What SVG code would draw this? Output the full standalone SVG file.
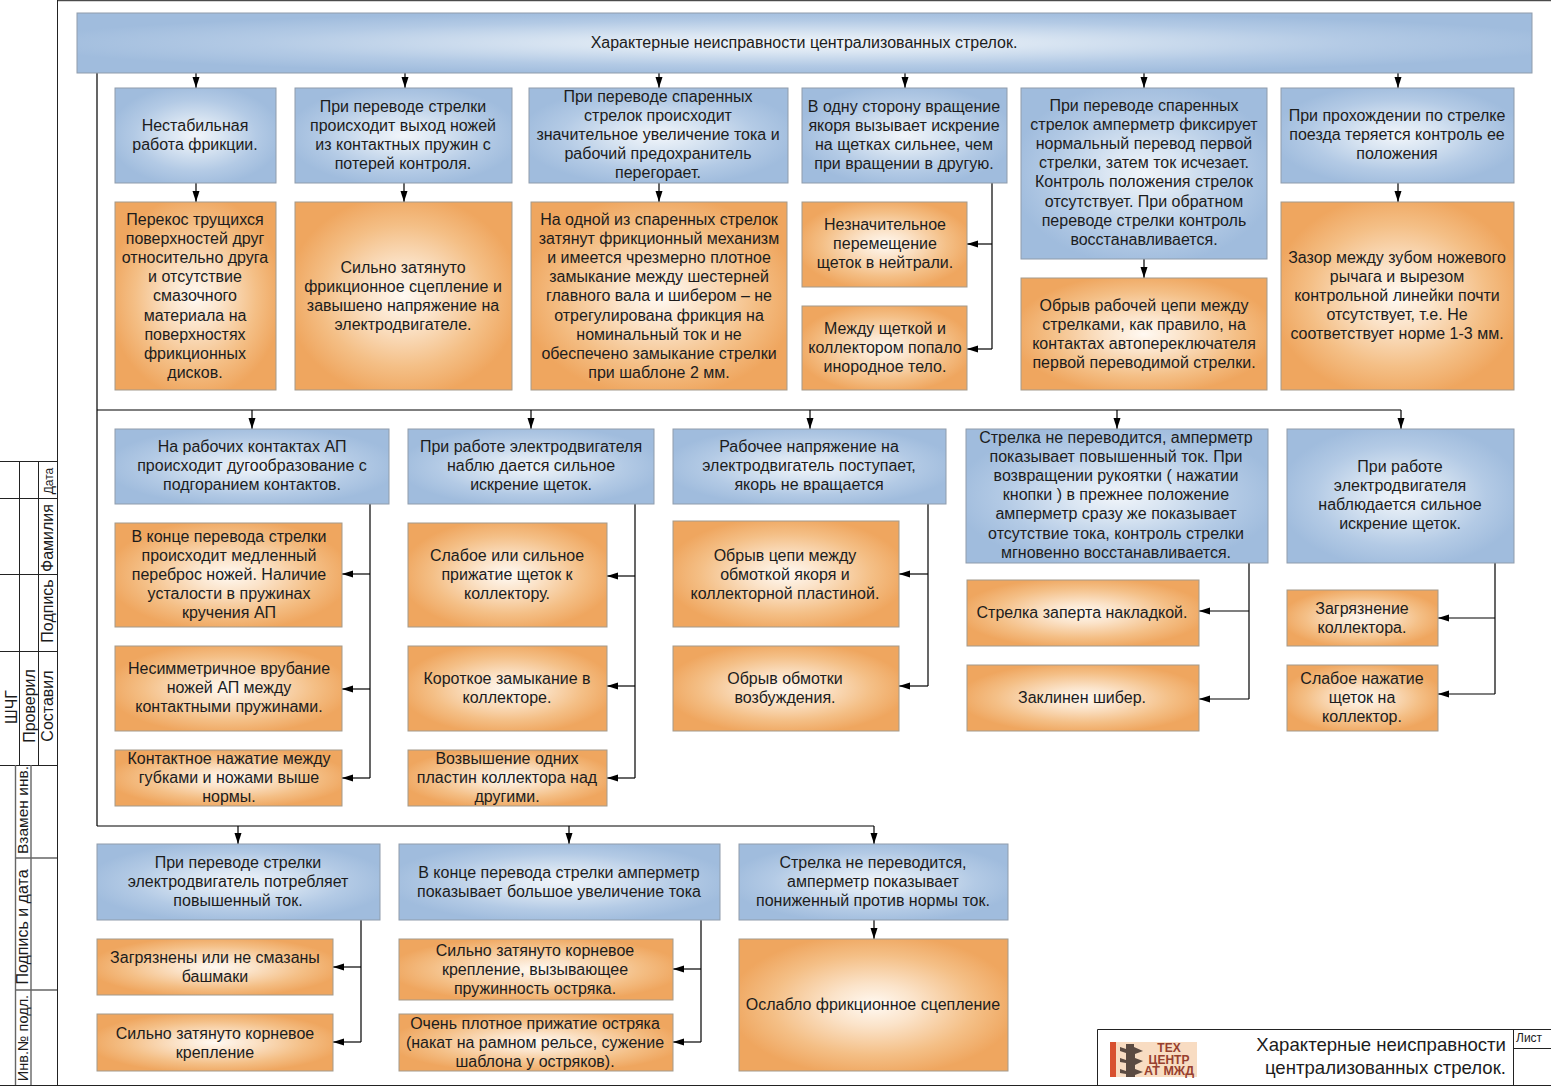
<svg xmlns="http://www.w3.org/2000/svg" width="1551" height="1086" viewBox="0 0 1551 1086">
<style>
text{font-family:"Liberation Sans",Arial,sans-serif;fill:#1c1c1c}
.t{font-size:16px;text-anchor:middle;transform:translateY(.7px)}
rect.b,rect.o{transform:translate(-.5px,-.5px)}
.b{fill:url(#blue);stroke:#8f9cab;stroke-width:1}
.o{fill:url(#orange);stroke:#a39a8c;stroke-width:1}
.c{fill:none;stroke:#000;stroke-width:1.2}
.a{marker-end:url(#ah)}
.f{fill:none;stroke:#222;stroke-width:1}
.g{fill:none;stroke:#666;stroke-width:1.4}
.v{font-size:16px;text-anchor:middle}
</style>
<defs>
<radialGradient id="blue" cx="50%" cy="50%" r="54%"><stop offset="0" stop-color="#f1f5fa"/><stop offset="0.3" stop-color="#d9e5f2"/><stop offset="0.7" stop-color="#b3cae5"/><stop offset="1" stop-color="#a0bcdd"/></radialGradient>
<radialGradient id="orange" cx="50%" cy="50%" r="54%"><stop offset="0" stop-color="#fff9f2"/><stop offset="0.3" stop-color="#fbe3c9"/><stop offset="0.7" stop-color="#f4bf86"/><stop offset="1" stop-color="#efa65f"/></radialGradient>
<marker id="ah" markerUnits="userSpaceOnUse" markerWidth="12" markerHeight="8" refX="11" refY="3.500" orient="auto"><path d="M0 0L11 3.500L0 7Z" fill="#000"/></marker>
</defs>
<rect width="1551" height="1086" fill="#fff"/>
<g id="frame">
<path class="f" d="M57.500 0V1085.500H0M1551 1085.500H57M57.500 .7H1551M1097.500 1085V1029.500H1551M1513.500 1029.500V1085M1513.500 1048.500H1551"/>
<path class="f" d="M0 461.500H57M0 498.500H57M0 574.500H57M0 651.500H57M0 765.500H57M19.500 461V765M38.500 461V765"/>
<path class="g" d="M15.500 765V1085M31 765V1085M15 858H57M15 990H57"/>
<text class="v" style="font-size:12px" transform="translate(53,481) rotate(-90)">Дата</text>
<text class="v" transform="translate(53,538) rotate(-90)">Фамилия</text>
<text class="v" transform="translate(53,611) rotate(-90)">Подпись</text>
<text class="v" transform="translate(53,706) rotate(-90)">Составил</text>
<text class="v" transform="translate(35,706) rotate(-90)">Проверил</text>
<text class="v" transform="translate(17,707) rotate(-90)">ШЧГ</text>
<text class="v" style="font-size:15.500px" transform="translate(28,810) rotate(-90)">Взамен инв.</text>
<text class="v" transform="translate(28,927) rotate(-90)">Подпись и дата</text>
<text class="v" style="font-size:14.500px" transform="translate(28,1038) rotate(-90)">Инв.№ подл.</text>
<text style="font-size:12px" x="1516" y="1042">Лист</text>
<text style="font-size:18.600px" text-anchor="end" x="1506" y="1051">Характерные неисправности</text>
<text style="font-size:18.600px" text-anchor="end" x="1506" y="1074">централизованных стрелок.</text>
</g>
<g id="logo">
<rect x="1110" y="1042" width="87" height="35" fill="#f8dcc2"/>
<rect x="1110" y="1042" width="6" height="35" fill="#d8502f"/>
<path d="M1120 1047L1126 1049V1044H1134V1047L1143 1051L1135 1054V1058L1143 1061L1135 1065V1069L1143 1072L1135 1075V1077H1126V1053L1120 1051ZM1120 1058L1126 1060V1063L1120 1062ZM1120 1069L1126 1071V1074L1120 1073Z" fill="#5b4b42"/>
<g style="font-size:12px;font-weight:bold;text-anchor:middle"><text x="1169" y="1052" style="fill:#97402f">ТЕХ</text><text x="1169" y="1063.500" style="fill:#97402f">ЦЕНТР</text><text x="1169" y="1075" style="fill:#97402f;font-size:12.500px">АТ МЖД</text></g>
</g>
<g id="connectors">
<path class="c" d="M97 73V826M97 410H1401M97 826H874"/>
<path class="c a" d="M196 73V88"/><path class="c a" d="M405 73V88"/><path class="c a" d="M659 73V88"/><path class="c a" d="M905 73V88"/><path class="c a" d="M1144 73V88"/><path class="c a" d="M1398 73V88"/>
<path class="c a" d="M196 183V202"/><path class="c a" d="M404 183V202"/><path class="c a" d="M659 183V202"/><path class="c a" d="M1144 259V278"/><path class="c a" d="M1398 183V202"/>
<path class="c" d="M992 183V349"/><path class="c a" d="M992 244H967"/><path class="c a" d="M992 349H967"/>
<path class="c a" d="M252 410V429"/><path class="c a" d="M531 410V429"/><path class="c a" d="M810 410V429"/><path class="c a" d="M1117 410V429"/><path class="c a" d="M1401 410V429"/>
<path class="c" d="M370 504V778"/><path class="c a" d="M370 574H342"/><path class="c a" d="M370 689H342"/><path class="c a" d="M370 778H342"/>
<path class="c" d="M635 504V778"/><path class="c a" d="M635 576H607"/><path class="c a" d="M635 686H607"/><path class="c a" d="M635 778H607"/>
<path class="c" d="M928 504V686"/><path class="c a" d="M928 574H899"/><path class="c a" d="M928 686H899"/>
<path class="c" d="M1249 563V699"/><path class="c a" d="M1249 611H1199"/><path class="c a" d="M1249 699H1199"/>
<path class="c" d="M1495 563V694"/><path class="c a" d="M1495 618H1438"/><path class="c a" d="M1495 694H1438"/>
<path class="c a" d="M238 826V844"/><path class="c a" d="M569 826V844"/><path class="c a" d="M874 826V844"/><path class="c a" d="M874 920V939"/>
<path class="c" d="M361 920V1042"/><path class="c a" d="M361 967H333"/><path class="c a" d="M361 1042H333"/>
<path class="c" d="M701 920V1042"/><path class="c a" d="M701 969H673"/><path class="c a" d="M701 1042H673"/>
</g>
<g id="top"><rect class="b" x="77.500" y="13.500" width="1455" height="60"/><text class="t" x="804" y="47">Характерные неисправности централизованных стрелок.</text></g>
<g id="n1"><rect class="b" x="115.500" y="88.500" width="161" height="95"/><text class="t" x="195" y="130">Нестабильная<tspan x="195" dy="19.200">работа фрикции.</tspan></text></g>
<g id="n2"><rect class="b" x="295.500" y="88.500" width="217" height="95"/><text class="t" x="403" y="111">При переводе стрелки<tspan x="403" dy="19.200">происходит выход ножей</tspan><tspan x="403" dy="19.200">из контактных пружин с</tspan><tspan x="403" dy="19.200">потерей контроля.</tspan></text></g>
<g id="n3"><rect class="b" x="529.500" y="88.500" width="259" height="95"/><text class="t" x="658" y="101">При переводе спаренных<tspan x="658" dy="19.200">стрелок происходит</tspan><tspan x="658" dy="19.200">значительное увеличение тока и</tspan><tspan x="658" dy="19.200">рабочий предохранитель</tspan><tspan x="658" dy="19.200">перегорает.</tspan></text></g>
<g id="n4"><rect class="b" x="802.500" y="88.500" width="205" height="95"/><text class="t" x="904" y="111">В одну сторону вращение<tspan x="904" dy="19.200">якоря вызывает искрение</tspan><tspan x="904" dy="19.200">на щетках сильнее, чем</tspan><tspan x="904" dy="19.200">при вращении в другую.</tspan></text></g>
<g id="n5"><rect class="b" x="1021.500" y="88.500" width="246" height="171"/><text class="t" x="1144" y="110">При переводе спаренных<tspan x="1144" dy="19.200">стрелок амперметр фиксирует</tspan><tspan x="1144" dy="19.200">нормальный перевод первой</tspan><tspan x="1144" dy="19.200">стрелки, затем ток исчезает.</tspan><tspan x="1144" dy="19.200">Контроль положения стрелок</tspan><tspan x="1144" dy="19.200">отсутствует. При обратном</tspan><tspan x="1144" dy="19.200">переводе стрелки контроль</tspan><tspan x="1144" dy="19.200">восстанавливается.</tspan></text></g>
<g id="n6"><rect class="b" x="1281.500" y="88.500" width="233" height="95"/><text class="t" x="1397" y="120">При прохождении по стрелке<tspan x="1397" dy="19.200">поезда теряется контроль ее</tspan><tspan x="1397" dy="19.200">положения</tspan></text></g>
<g id="o1"><rect class="o" x="115.500" y="202.500" width="161" height="188"/><text class="t" x="195" y="224">Перекос трущихся<tspan x="195" dy="19.200">поверхностей друг</tspan><tspan x="195" dy="19.200">относительно друга</tspan><tspan x="195" dy="19.200">и отсутствие</tspan><tspan x="195" dy="19.200">смазочного</tspan><tspan x="195" dy="19.200">материала на</tspan><tspan x="195" dy="19.200">поверхностях</tspan><tspan x="195" dy="19.200">фрикционных</tspan><tspan x="195" dy="19.200">дисков.</tspan></text></g>
<g id="o2"><rect class="o" x="295.500" y="202.500" width="217" height="188"/><text class="t" x="403" y="272">Сильно затянуто<tspan x="403" dy="19.200">фрикционное сцепление и</tspan><tspan x="403" dy="19.200">завышено напряжение на</tspan><tspan x="403" dy="19.200">электродвигателе.</tspan></text></g>
<g id="o3"><rect class="o" x="531.500" y="202.500" width="256" height="188"/><text class="t" x="659" y="224">На одной из спаренных стрелок<tspan x="659" dy="19.200">затянут фрикционный механизм</tspan><tspan x="659" dy="19.200">и имеется чрезмерно плотное</tspan><tspan x="659" dy="19.200">замыкание между шестерней</tspan><tspan x="659" dy="19.200">главного вала и шибером – не</tspan><tspan x="659" dy="19.200">отрегулирована фрикция на</tspan><tspan x="659" dy="19.200">номинальный ток и не</tspan><tspan x="659" dy="19.200">обеспечено замыкание стрелки</tspan><tspan x="659" dy="19.200">при шаблоне 2 мм.</tspan></text></g>
<g id="o4a"><rect class="o" x="802.500" y="202.500" width="165" height="85"/><text class="t" x="885" y="229">Незначительное<tspan x="885" dy="19.200">перемещение</tspan><tspan x="885" dy="19.200">щеток в нейтрали.</tspan></text></g>
<g id="o4b"><rect class="o" x="802.500" y="306.500" width="165" height="84"/><text class="t" x="885" y="333">Между щеткой и<tspan x="885" dy="19.200">коллектором попало</tspan><tspan x="885" dy="19.200">инородное тело.</tspan></text></g>
<g id="o5"><rect class="o" x="1021.500" y="278.500" width="246" height="112"/><text class="t" x="1144" y="310">Обрыв рабочей цепи между<tspan x="1144" dy="19.200">стрелками, как правило, на</tspan><tspan x="1144" dy="19.200">контактах автопереключателя</tspan><tspan x="1144" dy="19.200">первой переводимой стрелки.</tspan></text></g>
<g id="o6"><rect class="o" x="1281.500" y="202.500" width="233" height="188"/><text class="t" x="1397" y="262">Зазор между зубом ножевого<tspan x="1397" dy="19.200">рычага и вырезом</tspan><tspan x="1397" dy="19.200">контрольной линейки почти</tspan><tspan x="1397" dy="19.200">отсутствует, т.е. Не</tspan><tspan x="1397" dy="19.200">соответствует норме 1-3 мм.</tspan></text></g>
<g id="m1"><rect class="b" x="115.500" y="429.500" width="274" height="75"/><text class="t" x="252" y="451">На рабочих контактах АП<tspan x="252" dy="19.200">происходит дугообразование с</tspan><tspan x="252" dy="19.200">подгоранием контактов.</tspan></text></g>
<g id="m2"><rect class="b" x="408.500" y="429.500" width="246" height="75"/><text class="t" x="531" y="451">При работе электродвигателя<tspan x="531" dy="19.200">наблю дается сильное</tspan><tspan x="531" dy="19.200">искрение щеток.</tspan></text></g>
<g id="m3"><rect class="b" x="673.500" y="429.500" width="273" height="75"/><text class="t" x="809" y="451">Рабочее напряжение на<tspan x="809" dy="19.200">электродвигатель поступает,</tspan><tspan x="809" dy="19.200">якорь не вращается</tspan></text></g>
<g id="m4"><rect class="b" x="966.500" y="429.500" width="302" height="134"/><text class="t" x="1116" y="442">Стрелка не переводится, амперметр<tspan x="1116" dy="19.200">показывает повышенный ток. При</tspan><tspan x="1116" dy="19.200">возвращении рукоятки ( нажатии</tspan><tspan x="1116" dy="19.200">кнопки ) в прежнее положение</tspan><tspan x="1116" dy="19.200">амперметр сразу же показывает</tspan><tspan x="1116" dy="19.200">отсутствие тока, контроль стрелки</tspan><tspan x="1116" dy="19.200">мгновенно восстанавливается.</tspan></text></g>
<g id="m5"><rect class="b" x="1287.500" y="429.500" width="227" height="134"/><text class="t" x="1400" y="471">При работе<tspan x="1400" dy="19.200">электродвигателя</tspan><tspan x="1400" dy="19.200">наблюдается сильное</tspan><tspan x="1400" dy="19.200">искрение щеток.</tspan></text></g>
<g id="p1"><rect class="o" x="115.500" y="523.500" width="227" height="104"/><text class="t" x="229" y="541">В конце перевода стрелки<tspan x="229" dy="19.200">происходит медленный</tspan><tspan x="229" dy="19.200">переброс ножей. Наличие</tspan><tspan x="229" dy="19.200">усталости в пружинах</tspan><tspan x="229" dy="19.200">кручения АП</tspan></text></g>
<g id="p2"><rect class="o" x="115.500" y="646.500" width="227" height="85"/><text class="t" x="229" y="673">Несимметричное врубание<tspan x="229" dy="19.200">ножей АП между</tspan><tspan x="229" dy="19.200">контактными пружинами.</tspan></text></g>
<g id="p3"><rect class="o" x="115.500" y="750.500" width="227" height="56"/><text class="t" x="229" y="763">Контактное нажатие между<tspan x="229" dy="19.200">губками и ножами выше</tspan><tspan x="229" dy="19.200">нормы.</tspan></text></g>
<g id="q1"><rect class="o" x="408.500" y="523.500" width="199" height="104"/><text class="t" x="507" y="560">Слабое или сильное<tspan x="507" dy="19.200">прижатие щеток к</tspan><tspan x="507" dy="19.200">коллектору.</tspan></text></g>
<g id="q2"><rect class="o" x="408.500" y="646.500" width="199" height="85"/><text class="t" x="507" y="683">Короткое замыкание в<tspan x="507" dy="19.200">коллекторе.</tspan></text></g>
<g id="q3"><rect class="o" x="408.500" y="750.500" width="199" height="56"/><text class="t" x="507" y="763">Возвышение одних<tspan x="507" dy="19.200">пластин коллектора над</tspan><tspan x="507" dy="19.200">другими.</tspan></text></g>
<g id="r1"><rect class="o" x="673.500" y="521.500" width="226" height="106"/><text class="t" x="785" y="560">Обрыв цепи между<tspan x="785" dy="19.200">обмоткой якоря и</tspan><tspan x="785" dy="19.200">коллекторной пластиной.</tspan></text></g>
<g id="r2"><rect class="o" x="673.500" y="646.500" width="226" height="85"/><text class="t" x="785" y="683">Обрыв обмотки<tspan x="785" dy="19.200">возбуждения.</tspan></text></g>
<g id="s1"><rect class="o" x="967.500" y="580.500" width="232" height="66"/><text class="t" x="1082" y="617">Стрелка заперта накладкой.</text></g>
<g id="s2"><rect class="o" x="967.500" y="665.500" width="232" height="66"/><text class="t" x="1082" y="702">Заклинен шибер.</text></g>
<g id="u1"><rect class="o" x="1287.500" y="590.500" width="151" height="56"/><text class="t" x="1362" y="613">Загрязнение<tspan x="1362" dy="19.200">коллектора.</tspan></text></g>
<g id="u2"><rect class="o" x="1287.500" y="665.500" width="151" height="66"/><text class="t" x="1362" y="683">Слабое нажатие<tspan x="1362" dy="19.200">щеток на</tspan><tspan x="1362" dy="19.200">коллектор.</tspan></text></g>
<g id="k1"><rect class="b" x="97.500" y="844.500" width="283" height="76"/><text class="t" x="238" y="867">При переводе стрелки<tspan x="238" dy="19.200">электродвигатель потребляет</tspan><tspan x="238" dy="19.200">повышенный ток.</tspan></text></g>
<g id="k2"><rect class="b" x="399.500" y="844.500" width="321" height="76"/><text class="t" x="559" y="877">В конце перевода стрелки амперметр<tspan x="559" dy="19.200">показывает большое увеличение тока</tspan></text></g>
<g id="k3"><rect class="b" x="739.500" y="844.500" width="269" height="76"/><text class="t" x="873" y="867">Стрелка не переводится,<tspan x="873" dy="19.200">амперметр показывает</tspan><tspan x="873" dy="19.200">пониженный против нормы ток.</tspan></text></g>
<g id="l1"><rect class="o" x="97.500" y="939.500" width="236" height="56"/><text class="t" x="215" y="962">Загрязнены или не смазаны<tspan x="215" dy="19.200">башмаки</tspan></text></g>
<g id="l2"><rect class="o" x="97.500" y="1014.500" width="236" height="57"/><text class="t" x="215" y="1038">Сильно затянуто корневое<tspan x="215" dy="19.200">крепление</tspan></text></g>
<g id="l3"><rect class="o" x="399.500" y="939.500" width="274" height="61"/><text class="t" x="535" y="955">Сильно затянуто корневое<tspan x="535" dy="19.200">крепление, вызывающее</tspan><tspan x="535" dy="19.200">пружинность остряка.</tspan></text></g>
<g id="l4"><rect class="o" x="399.500" y="1014.500" width="274" height="57"/><text class="t" x="535" y="1028">Очень плотное прижатие остряка<tspan x="535" dy="19.200">(накат на рамном рельсе, сужение</tspan><tspan x="535" dy="19.200">шаблона у остряков).</tspan></text></g>
<g id="l5"><rect class="o" x="739.500" y="939.500" width="269" height="132"/><text class="t" x="873" y="1009">Ослабло фрикционное сцепление</text></g>
</svg>
